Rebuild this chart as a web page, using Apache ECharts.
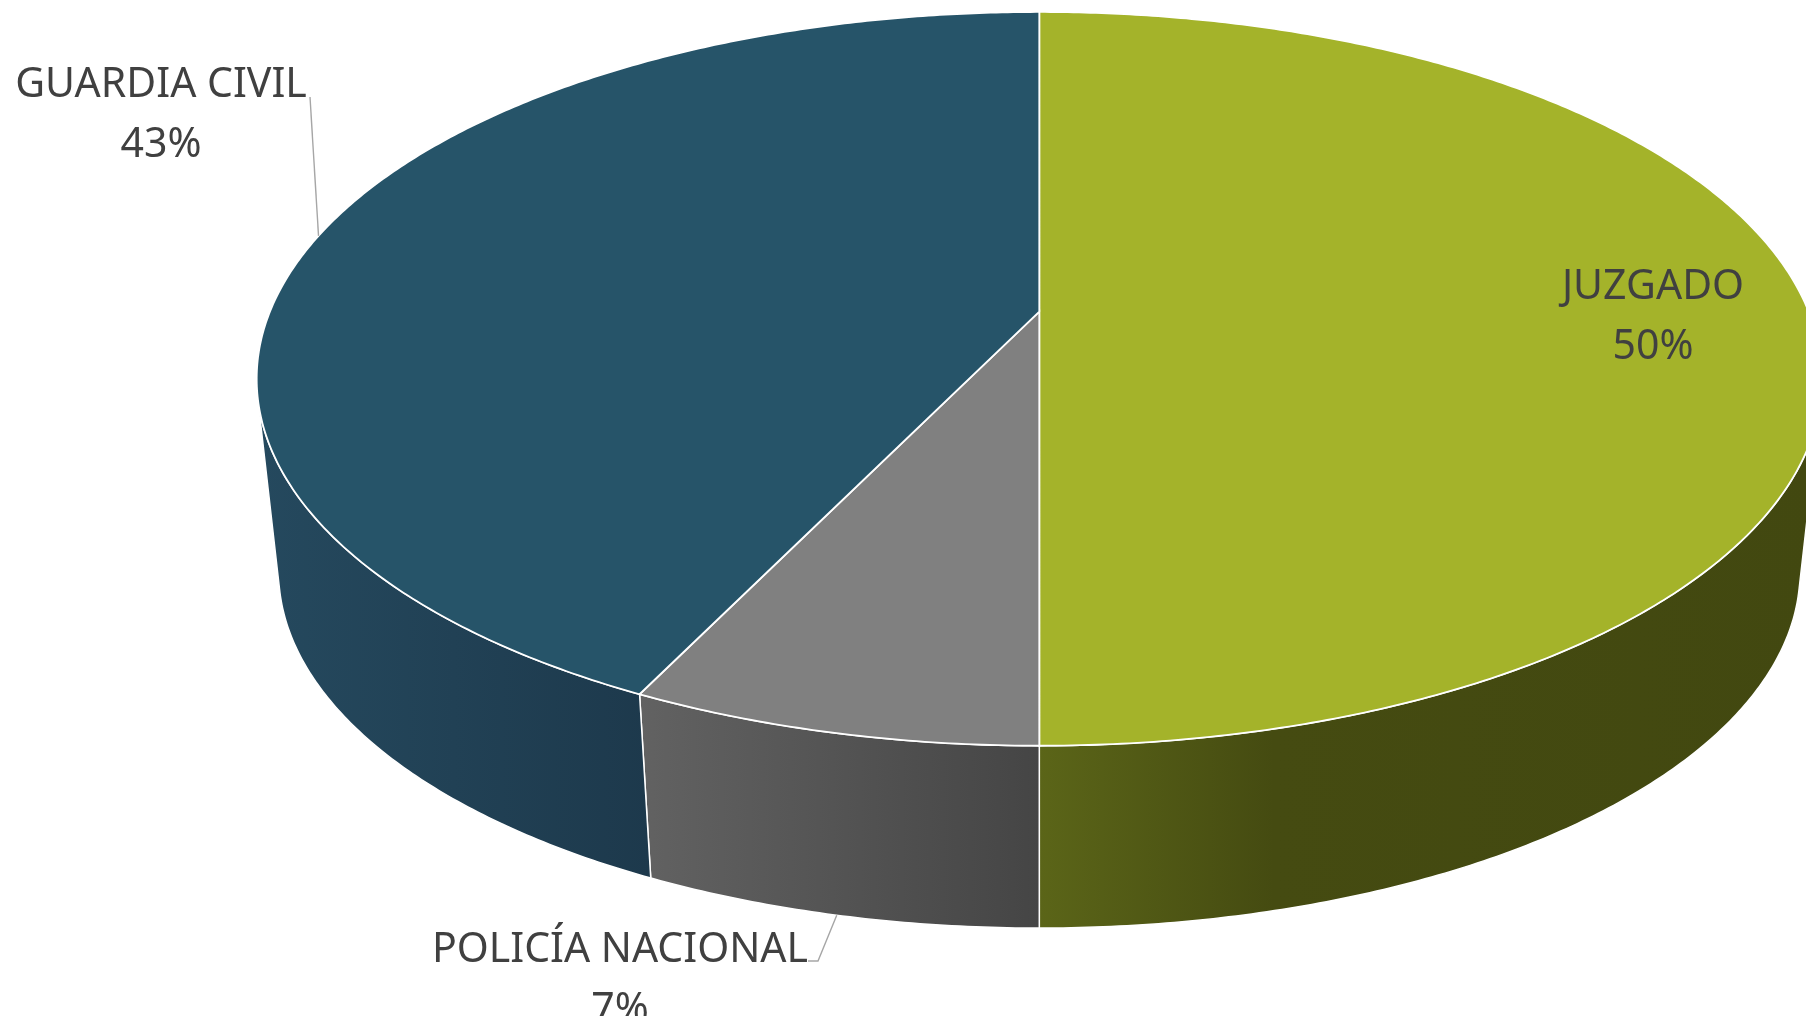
<!DOCTYPE html>
<html>
<head>
<meta charset="utf-8">
<title>Pie 3D</title>
<script src="https://cdn.jsdelivr.net/npm/echarts@6/dist/echarts.min.js"></script>
<style>
  html, body { margin: 0; padding: 0; background: #fff; }
  #main { width: 1806px; height: 1016px; }
</style>
</head>
<body>
<div id="main"></div>
<script>
// 数据
var categories = ['JUZGADO', 'POLICÍA NACIONAL', 'GUARDIA CIVIL'];
var values = [70, 10, 60];
var percentLabels = ['50%', '7%', '43%'];

// 颜色: 顶面 / 侧面渐变
var topColors = ['#a4b32a', '#808080', '#265469'];
var sideColors = [
  ['#5b6518', '#454b11', '#424810'],
  ['#626262', '#454545'],
  ['#25495e', '#1d394c']
];

// 标签位置 (文字中心, 顶部) 和引导线
var labelPos = [[1653, 257], [620, 920], [161, 55]];
var leaderStart = [null, [[808, 961], [818, 961]], [[310, 97]]];
var leaderEdge = [null, 'bottom', 'top'];

// 透视椭圆参数
var cx = 1039.3, cyTop = 311.7, rx = 769.4, ry = 354.6, persp = -0.183;
var cyBottom = 506.2, bottomScale = 0.972;

// 角度从12点方向顺时针
function project(deg, bottom) {
  var r = deg * Math.PI / 180;
  var u = Math.sin(r), v = -Math.cos(r);
  var k = 1 / (1 + persp * v);
  var s = bottom ? bottomScale : 1;
  return [cx + s * rx * u * k, (bottom ? cyBottom : cyTop) + s * ry * v * k];
}

function facing(a1, a2) {
  var p = [project(a1), project(a2), project(a2, true), project(a1, true)];
  var area = 0;
  for (var i = 0; i < 4; i++) {
    var q = p[(i + 1) % 4];
    area += p[i][0] * q[1] - q[0] * p[i][1];
  }
  return area < 0;
}

document.addEventListener('DOMContentLoaded', function () {
  var myChart = echarts.init(document.getElementById('main'));
  var total = values.reduce(function (s, v) { return s + v; }, 0);

  function renderItem(params, api) {
    var idx = params.dataIndex;
    var before = 0;
    for (var i = 0; i < idx; i++) before += values[i];
    var start = before / total * 360;
    var end = (before + api.value(0)) / total * 360;

    var angles = [];
    for (var a = start; a < end; a += 0.5) angles.push(a);
    angles.push(end);

    var children = [];

    // 侧面 (只画朝前的部分)
    var i0 = -1, i1 = -1;
    for (var j = 0; j < angles.length - 1; j++) {
      if (facing(angles[j], angles[j + 1])) {
        if (i0 < 0) i0 = j;
        i1 = j + 1;
      }
    }
    if (i0 >= 0) {
      var wall = [];
      for (var k = i0; k <= i1; k++) wall.push(project(angles[k]));
      for (var k2 = i1; k2 >= i0; k2--) wall.push(project(angles[k2], true));
      var cols = sideColors[idx];
      var stops = cols.map(function (c, n) {
        return { offset: cols.length === 3 ? [0, 0.3, 1][n] : n, color: c };
      });
      children.push({
        type: 'polygon',
        z2: 1,
        shape: { points: wall },
        style: {
          fill: new echarts.graphic.LinearGradient(0, 0, 1, 0, stops),
          stroke: '#ffffff',
          lineWidth: 1.5
        }
      });
    }

    // 顶面
    var topPts = [[cx, cyTop]];
    angles.forEach(function (a) { topPts.push(project(a)); });
    children.push({
      type: 'polygon',
      z2: 2,
      shape: { points: topPts },
      style: { fill: topColors[idx], stroke: '#ffffff', lineWidth: 1.8 }
    });

    // 引导线
    if (leaderStart[idx]) {
      var mid = (start + end) / 2;
      var pts = leaderStart[idx].concat([project(mid, leaderEdge[idx] === 'bottom')]);
      children.push({
        type: 'polyline',
        z2: 3,
        shape: { points: pts },
        style: { stroke: '#a6a6a6', lineWidth: 1.4, fill: null }
      });
    }

    // 标签
    children.push({
      type: 'text',
      z2: 4,
      style: {
        text: categories[idx] + '\n' + percentLabels[idx],
        x: labelPos[idx][0],
        y: labelPos[idx][1],
        align: 'center',
        verticalAlign: 'top',
        fontFamily: '"Noto Sans"',
        fontSize: 41,
        lineHeight: 60,
        fill: '#404040'
      }
    });

    return { type: 'group', children: children };
  }

  option = {
    backgroundColor: '#ffffff',
    animation: false,
    series: [{
      type: 'custom',
      coordinateSystem: 'none',
      silent: true,
      renderItem: renderItem,
      data: values
    }]
  };
  myChart.setOption(option);
});
</script>
</body>
</html>
